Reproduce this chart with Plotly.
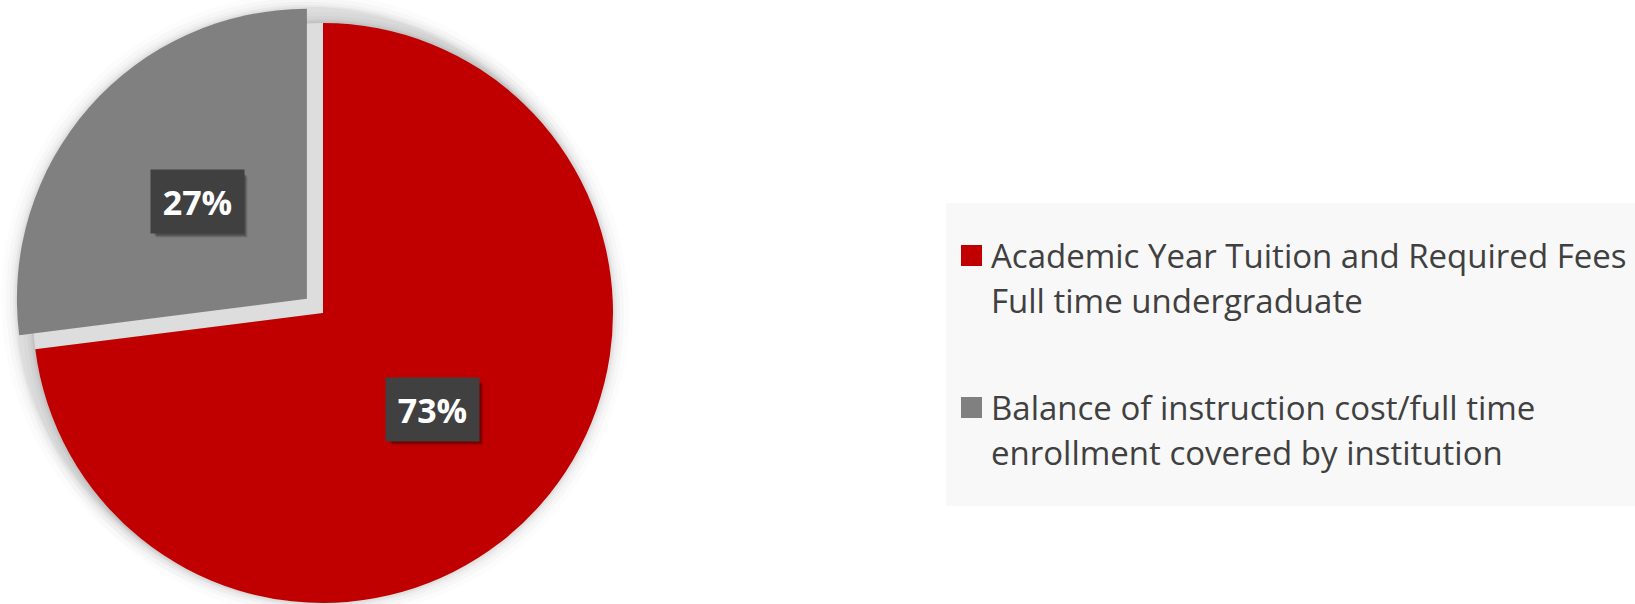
import math
import plotly.graph_objects as go

# ---- data ----
labels = ["Academic Year Tuition and Required Fees Full time undergraduate",
          "Balance of instruction cost/full time enrollment covered by institution"]
legend_lines = [["Academic Year Tuition and Required Fees", "Full time undergraduate"],
                ["Balance of instruction cost/full time", "enrollment covered by institution"]]
values = [73, 27]
colors = ["#C00000", "#808080"]

# ---- layout constants (pixels) ----
W, H = 1635, 604
CX, CY, R = 323, 313, 290      # centre / radius of the pie
PULL = 0.074                    # explode fraction of the grey slice
LBL_FRAC = 0.505                # data label distance (fraction of radius)
BOX_W, BOX_H = 91, 61


def px_x(x):
    return x / W


def px_y(y):
    return 1 - y / H


total = sum(values)
# slice bisector angles (clockwise from 12 o'clock)
angles = []
acc = 0
for v in values:
    mid = (acc + v / 2) / total * 360
    angles.append(math.radians(90 - mid))
    acc += v

# centres for each slice (grey slice exploded)
centres = []
for i, a in enumerate(angles):
    p = PULL * R if i == 1 else 0
    centres.append((CX + p * math.cos(a), CY - p * math.sin(a)))


def domain(c):
    cx, cy = c
    return dict(x=[px_x(cx - R), px_x(cx + R)], y=[px_y(cy + R), px_y(cy - R)])


fig = go.Figure()
clear = "rgba(0,0,0,0)"
common = dict(labels=labels, values=values, sort=False, direction="clockwise",
              rotation=0, textinfo="none", showlegend=False,
              hovertemplate="%{label}: %{percent}<extra></extra>")

# shadow in the gap of the exploded slice
fig.add_trace(go.Pie(**common, domain=domain(centres[0]),
                     marker=dict(colors=[clear, "#DDDDDD"], line=dict(width=0)),
                     hoverinfo="skip"))
# main (red) slice
fig.add_trace(go.Pie(**common, domain=domain(centres[0]),
                     marker=dict(colors=[colors[0], clear], line=dict(width=0))))
# exploded (grey) slice
fig.add_trace(go.Pie(**common, domain=domain(centres[1]),
                     marker=dict(colors=[clear, colors[1]], line=dict(width=0))))

shapes = []
# soft halo around pie pieces
for c in centres:
    for k, alpha in [(16, 0.012), (11, 0.018), (7, 0.025), (4, 0.03), (2, 0.035)]:
        shapes.append(dict(type="circle", xref="paper", yref="paper", layer="below",
                           x0=px_x(c[0] - R - k), x1=px_x(c[0] + R + k),
                           y0=px_y(c[1] + R + k), y1=px_y(c[1] - R - k),
                           fillcolor=f"rgba(0,0,0,{alpha})", line=dict(width=0)))

annotations = []
# data labels
for i, (a, c) in enumerate(zip(angles, centres)):
    lx = c[0] + LBL_FRAC * R * math.cos(a)
    ly = c[1] - LBL_FRAC * R * math.sin(a)
    pct = f"{round(values[i] / total * 100)}%"
    # label shadow (shape above the pie layer)
    for off, al in [(5, 0.10), (4, 0.15), (3, 0.2)]:
        shapes.append(dict(type="rect", xref="paper", yref="paper", layer="above",
                           x0=px_x(lx - BOX_W / 2 + off), x1=px_x(lx + BOX_W / 2 + off),
                           y0=px_y(ly + BOX_H / 2 + off), y1=px_y(ly - BOX_H / 2 + off),
                           fillcolor=f"rgba(0,0,0,{al})", line=dict(width=0)))
    annotations.append(dict(x=px_x(lx), y=px_y(ly), xref="paper", yref="paper",
                            xanchor="center", yanchor="middle",
                            text=f"<b>{pct}</b>", showarrow=False, width=BOX_W, height=BOX_H,
                            bgcolor="#404040", valign="middle",
                            font=dict(family="Open Sans", size=34, color="white")))

# legend (drawn manually to match spacing)
shapes.append(dict(type="rect", xref="paper", yref="paper", layer="below",
                   x0=px_x(946), x1=px_x(1640), y0=px_y(506), y1=px_y(203),
                   fillcolor="#F8F8F8", line=dict(width=0)))
item_top = [255.5, 407.5]
for i, lines in enumerate(legend_lines):
    y0 = item_top[i]
    shapes.append(dict(type="rect", xref="paper", yref="paper",
                       x0=px_x(961), x1=px_x(982), y0=px_y(y0 + 10.5), y1=px_y(y0 - 10.5),
                       fillcolor=colors[i], line=dict(width=0)))
    for j, t in enumerate(lines):
        annotations.append(dict(x=px_x(989), y=px_y(y0 + 45 * j), xref="paper", yref="paper",
                                text=t, showarrow=False, xanchor="left", yanchor="middle",
                                font=dict(family="Open Sans", size=33, color="#404040")))

fig.update_layout(width=W, height=H, margin=dict(l=0, r=0, t=0, b=0),
                  paper_bgcolor="white", plot_bgcolor="white",
                  shapes=shapes, annotations=annotations, showlegend=False)

fig.write_html("out.html", config={"displayModeBar": False},
               post_script="document.body.style.margin='0';document.body.style.overflow='hidden';")
